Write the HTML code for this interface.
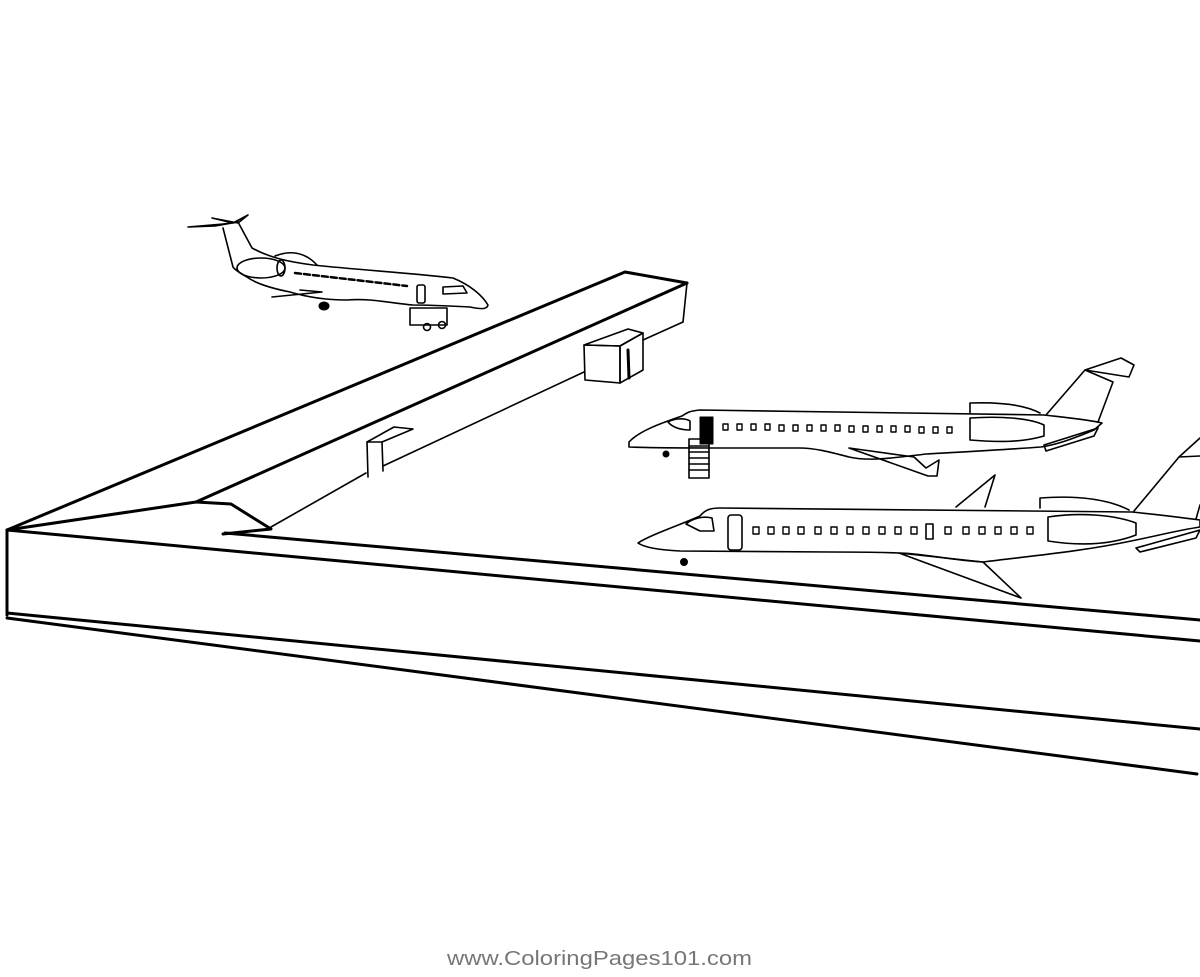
<!DOCTYPE html>
<html><head><meta charset="utf-8"><style>
html,body{margin:0;padding:0;background:#fff;}
svg{display:block;}
</style></head><body>
<svg width="1200" height="977" viewBox="0 0 1200 977" xmlns="http://www.w3.org/2000/svg">
<rect width="1200" height="977" fill="#fff"/>
<g fill="none" stroke="#000" stroke-linejoin="round" stroke-linecap="round">
<g stroke-width="3">
<line x1="7" y1="530" x2="1200" y2="641"/>
<line x1="225" y1="533" x2="1200" y2="620"/>
<line x1="7" y1="530" x2="7" y2="615"/>
<line x1="7" y1="613" x2="1200" y2="729"/>
<line x1="7" y1="618" x2="1197" y2="774"/>
<polyline points="7,530 625,272 687,283"/>
<polyline points="7,530 196,502 231,504 271,529 223,534"/>
<line x1="196" y1="502" x2="687" y2="283"/>
</g>
<g stroke-width="1.6">
<line x1="687" y1="283" x2="683" y2="322"/>
<line x1="683" y1="322" x2="643" y2="340"/>
<line x1="271" y1="527" x2="366" y2="473"/>
<line x1="383" y1="466" x2="584" y2="372"/>
<polygon points="584,345 628,329 643,333 620,346"/>
<polygon points="584,345 620,346 620,383 585,380"/>
<polygon points="620,346 643,333 643,370 620,383"/>
<polygon points="367,442 394,427 413,429 382,442"/>
<polyline points="367,442 368,477"/>
<polyline points="382,442 383,471"/>
</g>
<line x1="628" y1="350" x2="629" y2="378" stroke-width="3"/>

<!-- flying plane -->
<g stroke-width="1.6">
<path d="M233,267 L223,228 M238,222 L252,248 C270,258 290,262 313,265 C360,270 410,273 453,278 C470,285 482,295 488,305 C487,310 480,309 470,307 C450,306 430,305 413,305 C390,303 370,298 347,300 C320,300 300,295 290,292 C270,288 255,283 247,277 C240,273 235,270 233,267"/>
<polygon points="188,227 223,224 238,222 215,226"/>
<polygon points="212,218 233,223 248,215 238,223"/>
<ellipse cx="261" cy="268" rx="24" ry="10"/>
<ellipse cx="281" cy="268" rx="4" ry="8"/>
<path d="M275,256 C290,250 305,252 317,265"/>
<path d="M272,297 L322,292 L300,290"/>
<rect x="417" y="285" width="8" height="18" rx="2"/>
<path d="M443,287 L463,286 L467,293 L443,294 Z"/>
<rect x="410" y="308" width="37" height="17"/>
<circle cx="427" cy="327" r="3.5"/>
<circle cx="442" cy="325" r="3.5"/>
</g>
<line x1="295" y1="273" x2="407" y2="286" stroke-width="2.5" stroke-dasharray="6,3"/>
<ellipse cx="324" cy="306" rx="5" ry="4" fill="#000"/>

<!-- plane 1 -->
<g stroke-width="1.6">
<path d="M629,442 C640,430 665,422 682,416 C688,412 690,411 700,410 L1044,415 C1070,418 1090,420 1102,423 L1094,430 C1070,440 1055,445 1041,447 C1000,450 960,452 926,454 C900,457 870,462 849,457 C830,452 815,448 799,448 L715,448 C680,448 650,448 629,447 Z"/>
<polyline points="1046,415 1085,370 1113,382 1098,422"/>
<polyline points="1085,370 1121,358 1134,365 1129,377 1085,370"/>
<path d="M970,418 C1000,416 1030,418 1044,425 L1044,436 C1020,443 995,442 970,440 Z"/>
<path d="M970,413 L970,403 C1000,402 1025,405 1040,413"/>
<path d="M849,448 L914,457 L926,468 L939,460 L937,476 L928,476 Z"/>
<path d="M1044,445 L1098,428 L1094,436 L1046,451 Z"/>
<path d="M668,422 C675,418 685,418 690,421 L690,430 C680,430 672,427 668,422"/>
<rect x="689" y="439" width="20" height="39"/>
<path d="M689,446H709M689,452H709M689,458H709M689,464H709M689,470H709"/>
</g>
<rect x="700" y="417" width="13" height="27" fill="#000"/>
<circle cx="666" cy="454" r="3" fill="#000"/>
<g stroke-width="1.4">
<rect x="723" y="424" width="5" height="6"/><rect x="737" y="424" width="5" height="6"/><rect x="751" y="424" width="5" height="6"/><rect x="765" y="424" width="5" height="6"/><rect x="779" y="425" width="5" height="6"/><rect x="793" y="425" width="5" height="6"/><rect x="807" y="425" width="5" height="6"/><rect x="821" y="425" width="5" height="6"/><rect x="835" y="425" width="5" height="6"/><rect x="849" y="426" width="5" height="6"/><rect x="863" y="426" width="5" height="6"/><rect x="877" y="426" width="5" height="6"/><rect x="891" y="426" width="5" height="6"/><rect x="905" y="426" width="5" height="6"/><rect x="919" y="427" width="5" height="6"/><rect x="933" y="427" width="5" height="6"/><rect x="947" y="427" width="5" height="6"/>
</g>

<!-- plane 2 -->
<g stroke-width="1.6">
<path d="M638,543 C650,535 680,525 700,516 C705,510 710,508 720,508 L1132,512 C1160,515 1185,518 1200,520 L1200,527 C1180,530 1160,535 1136,540 C1080,552 1030,556 983,562 C950,560 920,553 899,553 C870,552 850,552 830,552 L680,551 C660,550 645,548 638,543 Z"/>
<polyline points="956,507 995,475 985,507"/>
<polyline points="1134,511 1179,457 1200,456"/>
<line x1="1179" y1="457" x2="1200" y2="438"/>
<line x1="1200" y1="505" x2="1196" y2="519"/>
<path d="M1048,517 C1080,512 1115,515 1136,523 L1136,535 C1110,545 1080,546 1048,541 Z"/>
<path d="M1040,508 L1040,498 C1080,495 1110,500 1129,510"/>
<path d="M899,553 L983,562 L1021,598 Z"/>
<path d="M1136,548 L1200,530 L1196,538 L1140,552 Z"/>
<path d="M686,524 C693,518 703,516 712,518 L714,531 L700,531 Z"/>
<rect x="728" y="515" width="14" height="35" rx="3"/>
<rect x="926" y="524" width="7" height="15"/>
</g>
<circle cx="684" cy="562" r="3.5" fill="#000"/>
<g stroke-width="1.4">
<rect x="753" y="527" width="6" height="7"/><rect x="768" y="527" width="6" height="7"/><rect x="783" y="527" width="6" height="7"/><rect x="798" y="527" width="6" height="7"/><rect x="815" y="527" width="6" height="7"/><rect x="831" y="527" width="6" height="7"/><rect x="847" y="527" width="6" height="7"/><rect x="863" y="527" width="6" height="7"/><rect x="879" y="527" width="6" height="7"/><rect x="895" y="527" width="6" height="7"/><rect x="911" y="527" width="6" height="7"/><rect x="945" y="527" width="6" height="7"/><rect x="963" y="527" width="6" height="7"/><rect x="979" y="527" width="6" height="7"/><rect x="995" y="527" width="6" height="7"/><rect x="1011" y="527" width="6" height="7"/><rect x="1027" y="527" width="6" height="7"/>
</g>
</g>
<text x="447" y="965" font-family="Liberation Sans, sans-serif" font-size="20" fill="#777" textLength="305" lengthAdjust="spacingAndGlyphs">www.ColoringPages101.com</text>
</svg>
</body></html>
